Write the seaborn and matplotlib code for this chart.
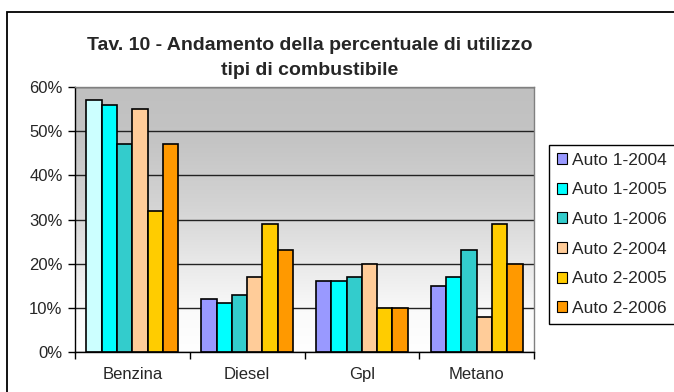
import numpy as np
import pandas as pd
import matplotlib
matplotlib.use("Agg")
import matplotlib.pyplot as plt
import seaborn as sns
from matplotlib.patches import Rectangle, Patch
from matplotlib.colors import LinearSegmentedColormap
from matplotlib.ticker import FixedLocator

# Fuel types on the x axis and the six survey series
categories = ["Benzina", "Diesel", "Gpl", "Metano"]
series = ["Auto 1-2004", "Auto 1-2005", "Auto 1-2006",
          "Auto 2-2004", "Auto 2-2005", "Auto 2-2006"]

# Percent share of each fuel type, one list per series
auto1_2004 = [57, 12, 16, 15]
auto1_2005 = [56, 11, 16, 17]
auto1_2006 = [47, 13, 17, 23]
auto2_2004 = [55, 17, 20, 8]
auto2_2005 = [32, 29, 10, 29]
auto2_2006 = [47, 23, 10, 20]

y_ticks = [0, 10, 20, 30, 40, 50, 60]
y_tick_labels = [f"{v}%" for v in y_ticks]

palette = ["#9999FF", "#00FFFF", "#33CCCC", "#FFCC99", "#FFCC00", "#FF9900"]
benzina_first_color = "#CCFFFF"

values = [auto1_2004, auto1_2005, auto1_2006, auto2_2004, auto2_2005, auto2_2006]
df = pd.DataFrame({
    "tipo": categories * len(series),
    "serie": np.repeat(series, len(categories)),
    "valore": np.concatenate(values),
})

sns.set_theme(style="white")
plt.rcParams["font.family"] = ["Liberation Sans", "DejaVu Sans"]

W, H = 674, 392
fig = plt.figure(figsize=(W / 100, H / 100), dpi=100)
fig.patch.set_facecolor("white")

# plot area in pixel coordinates
left, right, top, bottom = 75, 534, 87, 352
ax = fig.add_axes([left / W, 1 - bottom / H, (right - left) / W, (bottom - top) / H])

sns.barplot(data=df, x="tipo", y="valore", hue="serie", order=categories,
            hue_order=series, palette=palette, saturation=1, width=0.8,
            edgecolor="black", linewidth=1.2, errorbar=None, ax=ax, zorder=2)

# Excel-style data point override on the first Benzina bar
ax.containers[0].patches[0].set_facecolor(benzina_first_color)

# vertical gradient: white at the baseline, grey at the top
grad = np.linspace(0, 1, 256).reshape(-1, 1)
cmap = LinearSegmentedColormap.from_list(
    "bg", [(0.0, "#FFFFFF"), (0.15, "#FAFAFA"), (0.55, "#D4D4D4"),
           (0.8, "#C4C4C4"), (1.0, "#C0C0C0")])
ax.imshow(grad, extent=[-0.5, 3.5, 0, 60], aspect="auto", cmap=cmap,
          origin="lower", zorder=0)

ax.set_xlim(-0.5, 3.5)
ax.set_ylim(0, 60)
ax.set_xlabel("")
ax.set_ylabel("")

ax.set_yticks(y_ticks)
ax.set_yticklabels(y_tick_labels, fontsize=12)
ax.yaxis.grid(True, color="#222222", linewidth=1.0)
ax.set_axisbelow(True)
for line in ax.get_ygridlines():
    line.set_zorder(1)

ax.xaxis.set_major_locator(FixedLocator([-0.5, 0.5, 1.5, 2.5, 3.5]))
ax.set_xticklabels([])
ax.xaxis.set_minor_locator(FixedLocator([0, 1, 2, 3]))
ax.set_xticklabels(categories, minor=True, fontsize=12)
ax.tick_params(axis="x", which="major", direction="out", length=5, width=1, color="black", bottom=True)
ax.tick_params(axis="x", which="minor", length=0, pad=11, bottom=True)
ax.tick_params(axis="y", direction="out", length=5, width=1, color="black", left=True, pad=4)

for side in ("left", "bottom"):
    ax.spines[side].set_color("black")
    ax.spines[side].set_linewidth(1.0)
for side in ("top", "right"):
    ax.spines[side].set_color("#808080")
    ax.spines[side].set_linewidth(1.0)

if ax.get_legend() is not None:
    ax.get_legend().remove()

handles = [Patch(facecolor=c, edgecolor="black", linewidth=0.8) for c in palette]
fig.legend(handles, series, loc="upper left",
           bbox_to_anchor=(549 / W, 1 - 145 / H), bbox_transform=fig.transFigure,
           frameon=True, fancybox=False, edgecolor="black", framealpha=1,
           fontsize=12.5, handlelength=0.6, handleheight=0.6, handletextpad=0.3,
           labelspacing=0.84, borderpad=0.45, borderaxespad=0)

fig.text(310 / W, 1 - 37 / H,
         "Tav. 10 - Andamento della percentuale di utilizzo\ntipi di combustibile",
         ha="center", va="top", fontsize=14, fontweight="bold", linespacing=1.6)

# outer chart frame
fig.patches.append(Rectangle((7 / W, -0.1), 1.0, (H - 12) / H + 0.1,
                             transform=fig.transFigure, fill=False,
                             edgecolor="black", linewidth=1.3))

fig.savefig("out.png", dpi=100)
